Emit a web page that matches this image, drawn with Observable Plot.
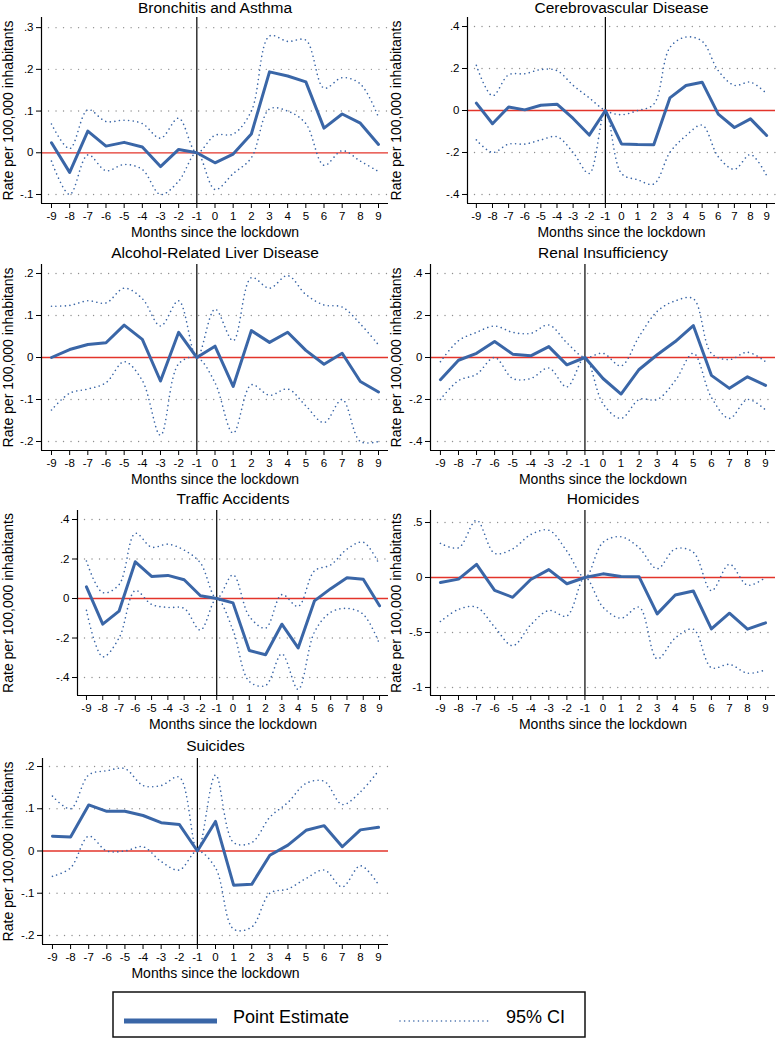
<!DOCTYPE html>
<html><head><meta charset="utf-8">
<script src="https://cdn.jsdelivr.net/npm/d3@7"></script>
<script src="https://cdn.jsdelivr.net/npm/@observablehq/plot@0.6"></script>
<style>
body{margin:0;background:#fff;}
#wrap{position:relative;width:777px;height:1039px;overflow:hidden;background:#fff;font-family:"Liberation Sans",Arial,Helvetica,sans-serif;}
.panel{position:absolute;}
</style></head><body><div id="wrap"></div>
<script>
const months = [-9,-8,-7,-6,-5,-4,-3,-2,-1,0,1,2,3,4,5,6,7,8,9];
const titles = ["Bronchitis and Asthma","Cerebrovascular Disease","Alcohol-Related Liver Disease","Renal Insufficiency","Traffic Accidents","Homicides","Suicides"];
const yLabel = "Rate per 100,000 inhabitants";
const xLabel = "Months since the lockdown";
const legendLabels = ["Point Estimate","95% CI"];

const bronchEst = [0.024,-0.047,0.052,0.016,0.025,0.014,-0.033,0.008,0,-0.024,-0.003,0.045,0.194,0.184,0.17,0.059,0.093,0.071,0.02];
const bronchHi  = [0.069,0.01,0.103,0.075,0.078,0.07,0.035,0.083,0,0.042,0.045,0.1,0.28,0.267,0.27,0.155,0.18,0.165,0.085];
const bronchLo  = [-0.02,-0.1,-0.005,-0.043,-0.028,-0.04,-0.1,-0.068,0,-0.088,-0.05,-0.012,0.105,0.1,0.07,-0.03,0.005,-0.02,-0.045];

const cereEst = [0.035,-0.063,0.017,0.003,0.025,0.03,-0.038,-0.117,0,-0.159,-0.162,-0.163,0.06,0.119,0.135,-0.017,-0.081,-0.04,-0.119];
const cereHi  = [0.215,0.07,0.17,0.175,0.195,0.19,0.12,0.06,0,-0.02,0,0.03,0.3,0.35,0.33,0.19,0.12,0.135,0.08];
const cereLo  = [-0.14,-0.2,-0.16,-0.16,-0.14,-0.125,-0.2,-0.3,0,-0.3,-0.33,-0.35,-0.2,-0.12,-0.07,-0.22,-0.28,-0.21,-0.31];

const alcEst = [0,0.019,0.031,0.035,0.077,0.043,-0.056,0.06,0,0.027,-0.069,0.064,0.036,0.06,0.017,-0.016,0.01,-0.057,-0.082];
const alcHi  = [0.122,0.124,0.135,0.13,0.165,0.14,0.075,0.135,0,0.115,0.04,0.19,0.165,0.195,0.15,0.125,0.12,0.08,0.03];
const alcLo  = [-0.125,-0.085,-0.075,-0.06,-0.01,-0.055,-0.185,-0.015,0,-0.06,-0.18,-0.065,-0.09,-0.075,-0.115,-0.155,-0.1,-0.2,-0.2];

const renEst = [-0.106,-0.013,0.02,0.076,0.016,0.008,0.052,-0.035,0,-0.1,-0.174,-0.057,0.013,0.076,0.152,-0.085,-0.147,-0.092,-0.133];
const renHi  = [-0.02,0.08,0.12,0.15,0.12,0.115,0.155,0.07,0,0.02,-0.04,0.1,0.22,0.27,0.28,0.02,-0.01,0.025,-0.02];
const renLo  = [-0.2,-0.11,-0.08,0,-0.1,-0.1,-0.05,-0.14,0,-0.22,-0.29,-0.2,-0.2,-0.11,0.02,-0.19,-0.29,-0.2,-0.25];

const trafEst = [0.059,-0.13,-0.064,0.186,0.112,0.117,0.095,0.014,0,-0.022,-0.263,-0.285,-0.13,-0.25,-0.012,0.05,0.105,0.098,-0.037];
const trafHi  = [0.19,0.03,0.07,0.33,0.26,0.275,0.245,0.18,0,0.12,-0.09,-0.15,0.02,-0.04,0.14,0.17,0.25,0.285,0.17];
const trafLo  = [-0.06,-0.295,-0.2,0.04,-0.03,-0.045,-0.05,-0.16,0,-0.16,-0.42,-0.44,-0.28,-0.46,-0.17,-0.07,-0.05,-0.08,-0.23];

const homEst = [-0.045,-0.015,0.12,-0.117,-0.18,-0.018,0.072,-0.057,0,0.033,0.009,0.006,-0.331,-0.16,-0.123,-0.467,-0.325,-0.47,-0.413];
const homHi  = [0.31,0.27,0.52,0.22,0.26,0.39,0.43,0.24,0,0.32,0.37,0.27,0.08,0.26,0.23,-0.12,0.12,-0.07,0];
const homLo  = [-0.4,-0.29,-0.27,-0.45,-0.62,-0.43,-0.3,-0.35,0,-0.27,-0.37,-0.27,-0.74,-0.55,-0.47,-0.82,-0.79,-0.87,-0.84];

const suiEst = [0.035,0.033,0.109,0.094,0.094,0.084,0.067,0.063,0,0.07,-0.081,-0.079,-0.01,0.014,0.049,0.06,0.01,0.05,0.056];
const suiHi  = [0.13,0.1,0.18,0.19,0.195,0.155,0.155,0.175,0,0.18,0.02,0.02,0.08,0.115,0.16,0.165,0.11,0.14,0.19];
const suiLo  = [-0.06,-0.04,0.035,0,0,0.01,-0.025,-0.045,0,-0.04,-0.185,-0.18,-0.1,-0.09,-0.065,-0.045,-0.085,-0.035,-0.08];

const ticksA = [-0.1,0,0.1,0.2,0.3];
const ticksB = [-0.4,-0.2,0,0.2,0.4];
const ticksC = [-0.2,-0.1,0,0.1,0.2];
const ticksH = [-1,-0.5,0,0.5];

const lockdownMonth = -1;

const BLUE = "#3a66a7";
const FONT = '"Liberation Sans", Arial, Helvetica, sans-serif';

const panels = [
  {title: titles[0], est: bronchEst, lo: bronchLo, hi: bronchHi, ticks: ticksA, ydom: [-0.1216, 0.3243], left: 0,   top: -3,  ml: 41, fh: 186, tdy: -9},
  {title: titles[1], est: cereEst,   lo: cereLo,   hi: cereHi,   ticks: ticksB, ydom: [-0.443, 0.443],   left: 388, top: -3,  ml: 79, fh: 186, tdy: -9},
  {title: titles[2], est: alcEst,    lo: alcLo,    hi: alcHi,    ticks: ticksC, ydom: [-0.2214, 0.2214], left: 0,   top: 244, ml: 41, fh: 186, tdy: -11},
  {title: titles[3], est: renEst,    lo: renLo,    hi: renHi,    ticks: ticksB, ydom: [-0.443, 0.443],   left: 388, top: 244, ml: 42, fh: 186, tdy: -11},
  {title: titles[4], est: trafEst,   lo: trafLo,   hi: trafHi,   ticks: ticksB, ydom: [-0.491, 0.4456],  left: 0,   top: 490, ml: 77, fh: 185, tdy: -11},
  {title: titles[5], est: homEst,    lo: homLo,    hi: homHi,    ticks: ticksH, ydom: [-1.073, 0.609],   left: 388, top: 490, ml: 42, fh: 185, tdy: -11},
  {title: titles[6], est: suiEst,    lo: suiLo,    hi: suiHi,    ticks: ticksC, ydom: [-0.2214, 0.219],  left: 0,   top: 738, ml: 42, fh: 186, tdy: -12}
];

const yFmt = d => d === 0 ? "0" : (d < 0 ? "-" : "") + String(Math.abs(d)).replace(/^0\./, ".");
const xdom = [-9.55, 9.55];

const wrap = document.getElementById("wrap");
const dotted = {strokeWidth: 1.6, strokeDasharray: "0.01,4.6", strokeLinecap: "round"};

for (const p of panels) {
  const data = months.map((m, i) => ({m, est: p.est[i], lo: p.lo[i], hi: p.hi[i]}));
  const w = p.left === 0 ? 388 : 389;
  const svg = Plot.plot({
    width: w,
    height: p.fh + 60,
    marginTop: 20,
    marginBottom: 40,
    marginLeft: p.ml,
    marginRight: p.left === 0 ? 0 : 2,
    style: {fontFamily: FONT, fontSize: "11.5px", background: "transparent", overflow: "visible", color: "#000"},
    x: {domain: xdom, label: null},
    y: {domain: p.ydom, label: null},
    marks: [
      Plot.ruleY(p.ticks.filter(t => t !== 0), {stroke: "#8f8f8f", strokeWidth: 1.4, strokeDasharray: "0.01,7.5", strokeLinecap: "round"}),
      Plot.ruleY([0], {stroke: "#e3342b", strokeWidth: 1.3}),
      Plot.ruleX([lockdownMonth], {stroke: "#000", strokeWidth: 1.2}),
      Plot.line(data, {x: "m", y: "hi", curve: "catmull-rom", stroke: BLUE, ...dotted}),
      Plot.line(data, {x: "m", y: "lo", curve: "catmull-rom", stroke: BLUE, ...dotted}),
      Plot.line(data, {x: "m", y: "est", stroke: BLUE, strokeWidth: 3, strokeLinejoin: "round"}),
      Plot.ruleX([xdom[0]], {stroke: "#000", strokeWidth: 1.2}),
      Plot.ruleY([p.ydom[0]], {stroke: "#000", strokeWidth: 1.2}),
      Plot.axisX({ticks: months, tickFormat: d => String(d), tickSize: 5, tickPadding: 3, fontSize: 11.5, label: null}),
      Plot.axisY({ticks: p.ticks, tickFormat: yFmt, tickSize: 5, tickPadding: 3, fontSize: 11.5, label: null}),
      Plot.text([p.title], {text: d => d, frameAnchor: "top", dy: p.tdy, fontSize: 15.5, textAnchor: "middle", lineAnchor: "middle", fill: "#000"}),
      Plot.text([xLabel], {text: d => d, frameAnchor: "bottom", dy: 29, fontSize: 14, textAnchor: "middle", lineAnchor: "middle", fill: "#000"}),
      Plot.text([yLabel], {text: d => d, frameAnchor: "left", dx: -(p.ml - 8), rotate: -90, fontSize: 14, textAnchor: "middle", lineAnchor: "middle", fill: "#000"})
    ]
  });
  const div = document.createElement("div");
  div.className = "panel";
  div.style.left = p.left + "px";
  div.style.top = p.top + "px";
  div.appendChild(svg);
  wrap.appendChild(div);
}

// Legend below the panels
const NS = "http://www.w3.org/2000/svg";
const leg = document.createElementNS(NS, "svg");
leg.setAttribute("width", 474);
leg.setAttribute("height", 47);
leg.style.position = "absolute";
leg.style.left = "112px";
leg.style.top = "991px";
leg.innerHTML = `
  <rect x="1" y="1" width="472" height="45" fill="#fff" stroke="#111" stroke-width="1.5"/>
  <line x1="12" x2="105" y1="30" y2="30" stroke="${BLUE}" stroke-width="5"/>
  <text x="121" y="32" font-family='${FONT}' font-size="18" fill="#000">${legendLabels[0]}</text>
  <line x1="288" x2="378" y1="30" y2="30" stroke="${BLUE}" stroke-width="1.6" stroke-linecap="round" stroke-dasharray="0.01,4.6"/>
  <text x="394" y="32" font-family='${FONT}' font-size="18" fill="#000">${legendLabels[1]}</text>`;
wrap.appendChild(leg);
</script>
</body></html>
